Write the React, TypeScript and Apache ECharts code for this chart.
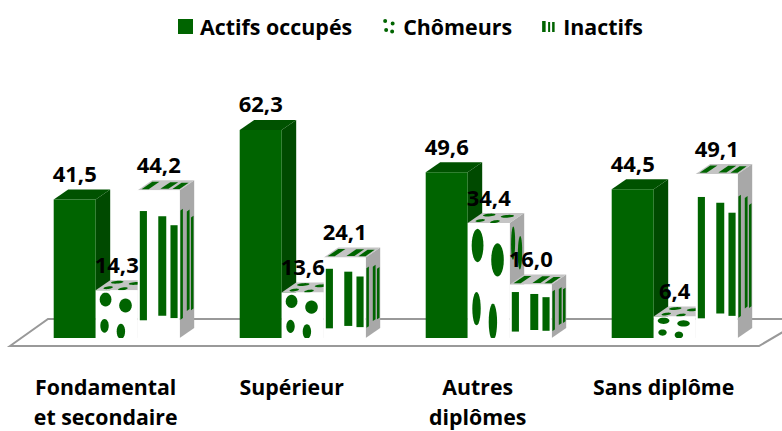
import React, { useEffect, useRef } from "react";
import * as echarts from "echarts";

const categories = ["Fondamental\net secondaire", "Supérieur", "Autres\ndiplômes", "Sans diplôme"];
const actifs = [41.5, 62.3, 49.6, 44.5];
const chomeurs = [14.3, 13.6, 34.4, 6.4];
const inactifs = [44.2, 24.1, 16.0, 49.1];
const seriesNames = ["Actifs occupés", "Chômeurs", "Inactifs"];

const GREEN = "#006400";
const BAR_W = 42;
const DX = 14.5;
const DY = 10;
const START = -52;
const FONT = "Open Sans";

type Pt = number[];
const stripes = [
  [0.05, 0.22, 0.14, 0.88],
  [0.49, 0.68, 0.176, 0.85],
  [0.78, 0.95, 0.236, 0.865],
];
const dots = [
  [0.235, 0.195, 0.14, 0.145],
  [0.71, 0.32, 0.15, 0.145],
  [0.21, 0.745, 0.1, 0.145],
  [0.6, 0.86, 0.1, 0.16],
];

const poly = (points: Pt[], fill: string) => ({
  type: "polygon",
  shape: { points },
  style: { fill, lineWidth: 0 },
});

function texture(kind: string, map: (u: number, v: number) => Pt) {
  if (kind === "stripes") {
    return stripes.map(([a, b, c, d]) => poly([map(a, c), map(b, c), map(b, d), map(a, d)], GREEN));
  }
  return dots.map(([cx, cy, rx, ry]) => {
    const pts: Pt[] = [];
    for (let i = 0; i < 24; i++) {
      const t = (i / 24) * Math.PI * 2;
      const u = cx + rx * Math.cos(t);
      const v = Math.min(1, cy + ry * Math.sin(t));
      pts.push(map(u, v));
    }
    return poly(pts, GREEN);
  });
}

function barRenderer(slot: number, kind: string) {
  return (_params: any, api: any) => {
    const cat = api.value(0);
    const [cx, y1] = api.coord([cat, api.value(1)]);
    const [, y0] = api.coord([cat, 0]);
    const x0 = cx + START + slot * BAR_W;
    const x1 = x0 + BAR_W;
    const h = y0 - y1;
    const front = (u: number, v: number): Pt => [x0 + u * BAR_W, y1 + v * h];
    const side = (u: number, v: number): Pt => [x1 + u * DX, y1 - u * DY + v * h];
    const top = (u: number, v: number): Pt => {
      const w = 1 - v;
      return [x0 + u * BAR_W + w * DX, y1 - w * DY];
    };
    const children: any[] = [];
    if (kind === "solid") {
      children.push(poly([side(0, 0), side(1, 0), side(1, 1), side(0, 1)], "#004a00"));
      children.push(poly([top(0, 1), top(1, 1), top(1, 0), top(0, 0)], "#005200"));
      children.push(poly([front(0, 0), front(1, 0), front(1, 1), front(0, 1)], GREEN));
    } else {
      children.push(poly([side(0, 0), side(1, 0), side(1, 1), side(0, 1)], "#a8a8a8"));
      children.push(...texture(kind, side));
      children.push(poly([top(0, 1), top(1, 1), top(1, 0), top(0, 0)], "#c4c4c4"));
      children.push(...texture(kind, top));
      children.push(poly([front(0, 0), front(1, 0), front(1, 1), front(0, 1)], "#ffffff"));
      children.push(...texture(kind, front));
    }
    return { type: "group", children };
  };
}

function labelRenderer(_params: any, api: any) {
  const cat = api.value(0);
  const val = api.value(1);
  const slot = api.value(2);
  const [cx, y1] = api.coord([cat, val]);
  return {
    type: "text",
    x: cx + START + slot * BAR_W + BAR_W / 2,
    y: y1 - 26.5,
    style: {
      text: val.toFixed(1).replace(".", ","),
      font: `bold 22px "${FONT}"`,
      fill: "#000000",
      align: "center",
      verticalAlign: "middle",
    },
  };
}

const toData = (arr: number[]) => arr.map((v, i) => [i, v]);
const dotsIcon =
  "path://M0 0L0 0ZM15 15L15 15ZM2 2a2 2 0 1 0 4 0a2 2 0 1 0 -4 0zM9.5 4.5a2 2 0 1 0 4 0a2 2 0 1 0 -4 0zM3 11a2 2 0 1 0 4 0a2 2 0 1 0 -4 0zM9 12.5a2 2 0 1 0 4 0a2 2 0 1 0 -4 0z";
const stripesIcon =
  "path://M0 0L0 0ZM15 15L15 15ZM1 2H4.5V13H1ZM7 3H9V13H7ZM11 3H13.5V13H11Z";

export default function App() {
  const ref = useRef<HTMLDivElement>(null);
  useEffect(() => {
    const chart = echarts.init(ref.current!, null, { renderer: "svg" });
    const kinds = ["solid", "dots", "stripes"];
    const values = [actifs, chomeurs, inactifs];
    const labelData: number[][] = [];
    values.forEach((arr, s) => arr.forEach((v, i) => labelData.push([i, v, s])));
    chart.setOption({
      animation: false,
      backgroundColor: "#ffffff",
      legend: {
        left: 173,
        top: 11,
        itemWidth: 15,
        itemHeight: 15,
        itemGap: 29,
        textStyle: { fontFamily: FONT, fontWeight: "bold", fontSize: 21.4, color: "#000", padding: [0, 0, 0, 2] },
        data: [
          { name: seriesNames[0], icon: "rect", itemStyle: { color: GREEN } },
          { name: seriesNames[1], icon: dotsIcon, itemStyle: { color: GREEN } },
          { name: seriesNames[2], icon: stripesIcon, itemStyle: { color: GREEN } },
        ],
      },
      grid: { left: 12.7, top: 70.8, width: 744, height: 267.2, outerBoundsMode: "none" },
      xAxis: {
        type: "category",
        data: categories,
        axisLine: { show: false },
        axisTick: { show: false },
        axisLabel: {
          interval: 0,
          margin: 33,
          fontFamily: FONT,
          fontWeight: "bold",
          fontSize: 21.3,
          lineHeight: 30.5,
          color: "#000",
        },
      },
      yAxis: { type: "value", min: 0, max: 80, show: false },
      graphic: [
        {
          type: "polygon",
          z: 0,
          shape: { points: [[10, 346], [48, 319], [805, 319], [759, 346]] },
          style: { fill: "#ffffff", stroke: "#999999", lineWidth: 2 },
        },
      ],
      series: [
        ...seriesNames.map((name, s) => ({
          type: "custom",
          name,
          z: 3 + s,
          clip: false,
          renderItem: barRenderer(s, kinds[s]),
          data: toData(values[s]),
          encode: { x: 0, y: 1 },
          itemStyle: { color: GREEN },
        })),
        {
          type: "custom",
          name: "labels",
          z: 10,
          clip: false,
          renderItem: labelRenderer,
          data: labelData,
          encode: { x: 0, y: 1 },
        },
      ],
    });
    return () => chart.dispose();
  }, []);
  return (
    <div style={{ position: "fixed", left: 0, top: 0, width: 782, height: 431 }} ref={ref} />
  );
}
